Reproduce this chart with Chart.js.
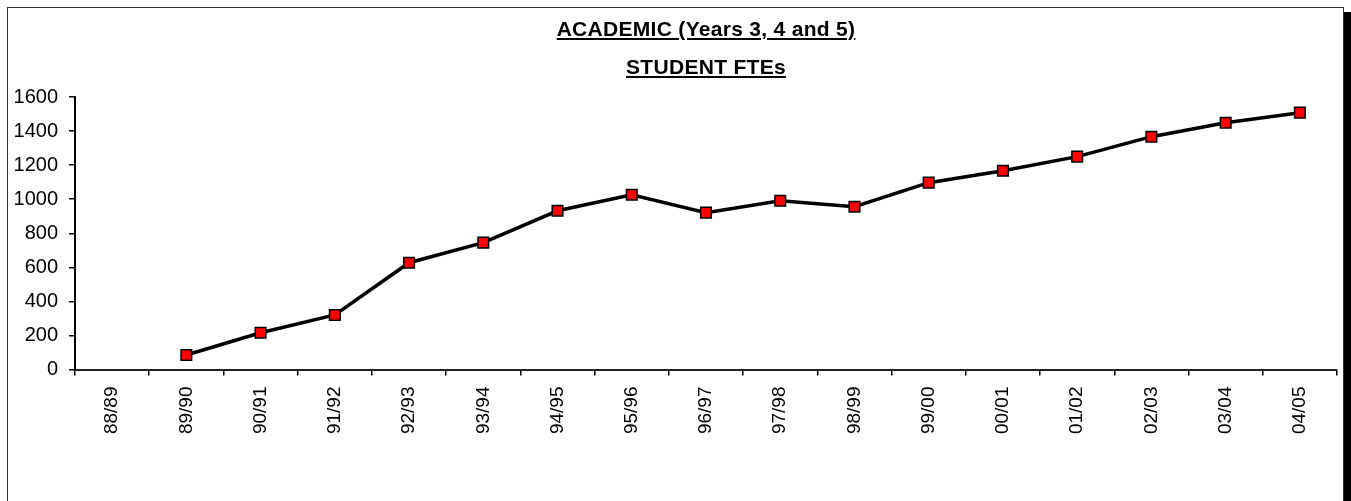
<!DOCTYPE html>
<html>
<head>
<meta charset="utf-8">
<script src="https://cdn.jsdelivr.net/npm/chart.js@4.4.1/dist/chart.umd.min.js"></script>
<style>
  html, body { margin: 0; padding: 0; background: #fff; overflow: hidden; }
  #wrap { position: relative; width: 1351px; height: 501px; }
  #frame {
    position: absolute; left: 7px; top: 7px; width: 1335px; height: 520px;
    border: 1px solid #333; pointer-events: none; z-index: 2;
  }
  #shadow {
    position: absolute; left: 1344px; top: 12px; width: 7px; height: 489px;
    background: #000; z-index: 3;
  }
  .ttl {
    position: absolute; left: 75px; width: 1262px; text-align: center;
    font-family: "Liberation Sans", Arial, sans-serif; font-weight: bold;
    font-size: 21px; line-height: 21px; letter-spacing: 0.3px; color: #000;
    text-decoration: underline; text-decoration-thickness: 2px; text-underline-offset: 2px;
    z-index: 4;
  }
  canvas { position: absolute; left: 0; top: 0; z-index: 1; }
</style>
</head>
<body>
<div id="wrap">
  <div id="frame"></div>
  <div id="shadow"></div>
  <div class="ttl" style="top:18px">ACADEMIC (Years 3, 4 and 5)</div>
  <div class="ttl" style="top:56px">STUDENT FTEs</div>
  <canvas id="myChart" width="1351" height="501"></canvas>
</div>
<script>
  // academic years on the x axis
  const years = ['88/89', '89/90', '90/91', '91/92', '92/93', '93/94', '94/95', '95/96', '96/97',
                 '97/98', '98/99', '99/00', '00/01', '01/02', '02/03', '03/04', '04/05']
  // student FTEs (no value for 88/89)
  const ftes = [null, 85, 216, 320, 627, 745, 932, 1026, 921, 991, 956, 1097, 1167, 1250, 1367, 1449, 1508]
  const yMin = 0
  const yMax = 1600
  const yStep = 200

  const fontFamily = 'Liberation Sans, Arial, sans-serif'

  const ctx = document.getElementById('myChart').getContext('2d')
  const myChart = new Chart(ctx, {
    type: 'line',
    data: {
      labels: years,
      datasets: [{
        label: 'Student FTEs',
        data: ftes,
        borderColor: '#000',
        borderWidth: 3.5,
        pointStyle: 'rect',
        pointRadius: 7.5,
        pointBackgroundColor: '#ff0000',
        pointBorderColor: '#000',
        pointBorderWidth: 1.5,
        tension: 0,
        spanGaps: false
      }]
    },
    options: {
      responsive: false,
      animation: false,
      events: [],
      layout: { padding: { top: 97, right: 14, left: 0, bottom: 0 } },
      plugins: {
        legend: { display: false },
        tooltip: { enabled: false },
        title: { display: false }
      },
      scales: {
        x: {
          offset: true,
          grid: { offset: true, drawOnChartArea: false, tickLength: 6, color: '#000', lineWidth: 1.5 },
          border: { color: '#222', width: 2 },
          ticks: {
            color: '#000', font: { family: fontFamily, size: 19 },
            minRotation: 90, maxRotation: 90, autoSkip: false, padding: 11
          },
          afterFit: function(scale) { scale.height = 131.5 }
        },
        y: {
          min: yMin,
          max: yMax,
          grid: { drawOnChartArea: false, tickLength: 6, color: '#000', lineWidth: 1.5 },
          border: { color: '#000', width: 2 },
          ticks: {
            stepSize: yStep, color: '#000', font: { family: fontFamily, size: 20 }, padding: 11,
            callback: function(value) { return String(value) }
          },
          afterFit: function(scale) { scale.width = 75 }
        }
      }
    }
  })
</script>
</body>
</html>
